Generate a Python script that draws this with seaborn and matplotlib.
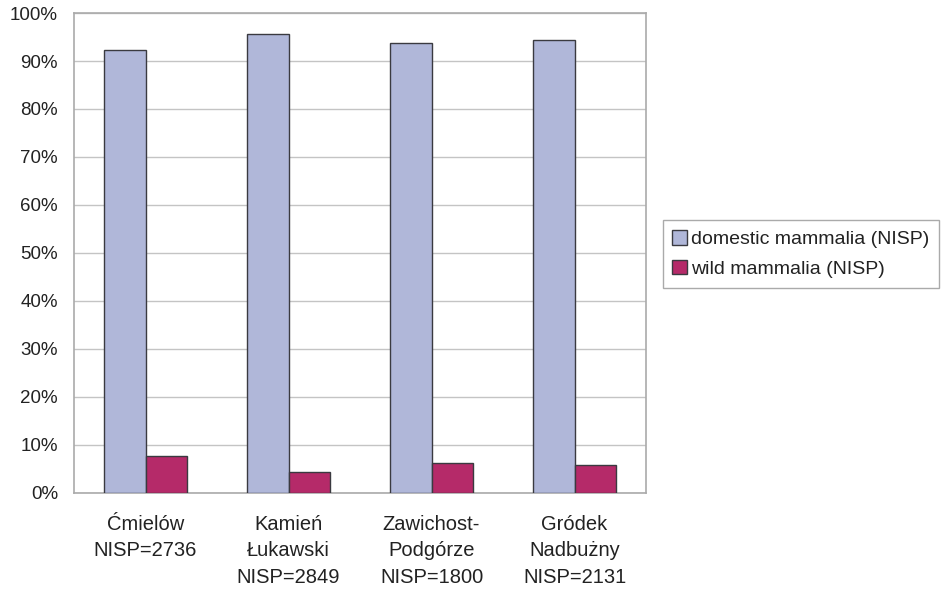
import matplotlib
matplotlib.use("Agg")
import matplotlib.pyplot as plt
import seaborn as sns
import pandas as pd
from matplotlib.ticker import FixedLocator, PercentFormatter

sites = ["Ćmielów\nNISP=2736", "Kamień\nŁukawski\nNISP=2849",
         "Zawichost-\nPodgórze\nNISP=1800", "Gródek\nNadbużny\nNISP=2131"]
series = ["domestic mammalia (NISP)", "wild mammalia (NISP)"]
domestic = [92.3, 95.7, 93.7, 94.3]
wild = [7.7, 4.3, 6.3, 5.7]
colors = ["#B0B7D9", "#B52A69"]

df = pd.DataFrame({
    "site": sites * 2,
    "group": [series[0]] * 4 + [series[1]] * 4,
    "share": domestic + wild,
})

sns.set_style("white")
plt.rcParams["font.family"] = ["Liberation Sans", "DejaVu Sans"]

fig = plt.figure(figsize=(9.48, 5.93), dpi=100)
ax = fig.add_axes([0.0781, 0.1691, 0.6034, 0.8089])

sns.barplot(data=df, x="site", y="share", hue="group", order=sites,
            hue_order=series, palette=colors, width=0.58, gap=0,
            edgecolor="#3a3a40", linewidth=1.0, saturation=1, ax=ax,
            zorder=3)

ax.set_ylim(0, 100)
ax.set_xlim(-0.5, 3.5)
ax.yaxis.set_major_locator(FixedLocator(range(0, 101, 10)))
ax.yaxis.set_major_formatter(PercentFormatter(decimals=0))
ax.grid(axis="y", color="#c4c4c4", linewidth=1.0, zorder=0)
ax.set_axisbelow(True)
ax.set_xlabel("")
ax.set_ylabel("")

for s in ax.spines.values():
    s.set_visible(True)
    s.set_color("#aaaaaa")
    s.set_linewidth(1.2)

ax.tick_params(axis="y", which="major", direction="out", length=3.6,
               width=1.0, color="#aaaaaa", labelsize=13.5,
               labelcolor="#222222", pad=8)
ax.tick_params(axis="x", which="major", length=0, labelsize=14.5,
               labelcolor="#222222", pad=16)
ax.xaxis.set_minor_locator(FixedLocator([-0.5, 0.5, 1.5, 2.5, 3.5]))
ax.tick_params(axis="x", which="minor", direction="out", length=4,
               width=1.0, color="#aaaaaa")
for lbl in ax.get_xticklabels():
    lbl.set_linespacing(1.5)

handles, labels = ax.get_legend_handles_labels()
ax.legend_.remove()
leg = fig.legend(handles, labels, loc="center left",
                 bbox_to_anchor=(0.699, 0.5717), frameon=True, fancybox=False,
                 fontsize=14, handlelength=0.77, handleheight=0.77,
                 handletextpad=0.2, borderpad=0.5, labelspacing=0.6,
                 borderaxespad=0, edgecolor="#aaaaaa", framealpha=1)
leg.get_frame().set_linewidth(1.0)
for t in leg.get_texts():
    t.set_color("#222222")

fig.savefig("out.png", dpi=100, facecolor="white")
